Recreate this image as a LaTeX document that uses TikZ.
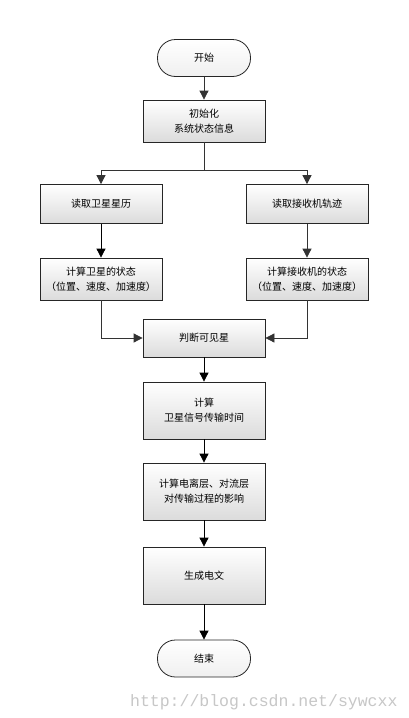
\documentclass[tikz,border=0pt]{standalone}
\usepackage{fontspec}
\newfontfamily\cjk{Noto Sans CJK SC}
\newfontfamily\markfont{Liberation Mono}
\usepackage{tikz}
\usetikzlibrary{arrows.meta}

\begin{document}
\begin{tikzpicture}[x=1pt,y=-1pt,
	proc/.style={draw=black!85,line width=0.8pt,top color=white,bottom color=black!14,
		minimum width=122pt,minimum height=42pt,align=center,
		font=\cjk\fontsize{10}{15}\selectfont},
	term/.style={proc,minimum width=93pt,minimum height=37pt,rounded corners=18pt,bottom color=black!6},
	flow/.style={draw=black!80,line width=0.8pt,-{Triangle[length=9pt,width=9pt]}},
	]
	\useasboundingbox (0,0) rectangle (409,718);
	\fill[white] (0,0) rectangle (409,718);
	
	% nodes
	\node[term] (start) at (204,58) {开始};
	\node[proc] (init) at (204,121) {初始化\\系统状态信息};
	\node[proc,minimum height=39pt] (readsat) at (101,204) {读取卫星星历};
	\node[proc,minimum height=39pt] (readrcv) at (307,204) {读取接收机轨迹};
	\node[proc] (satstate) at (101,279) {计算卫星的状态\\（位置、速度、加速度）};
	\node[proc] (rcvstate) at (307,279) {计算接收机的状态\\（位置、速度、加速度）};
	\node[proc,minimum height=38pt] (visible) at (204,338) {判断可见星};
	\node[proc,minimum height=57pt] (transit) at (204,410.5) {计算\\卫星信号传输时间};
	\node[proc,minimum height=57pt] (iono) at (204,491.5) {计算电离层、对流层\\对传输过程的影响};
	\node[proc,minimum height=57pt] (msg) at (204,575.5) {生成电文};
	\node[term] (stop) at (204,658.5) {结束};
	\coordinate (split) at (204,170);
	
	% connectors
	\draw[flow] (start) -- (init);
	\draw[draw=black!80,line width=0.8pt] (init) -- (split);
	\draw[flow] (split) -| (readsat);
	\draw[flow] (split) -| (readrcv);
	\draw[flow,draw=black] (readsat) -- (satstate);
	\draw[flow] (readrcv) -- (rcvstate);
	\draw[flow] (satstate) |- (visible);
	\draw[flow] (rcvstate) |- (visible);
	\draw[flow,draw=black] (visible) -- (transit);
	\draw[flow,draw=black] (transit) -- (iono);
	\draw[flow,draw=black] (iono) -- (msg);
	\draw[flow,draw=black] (msg) -- (stop);
	
	\node[anchor=east,text=black!22,font=\markfont\fontsize{16.5}{16.5}\selectfont] (mark) at (401,702) {http://blog.csdn.net/sywcxx};
\end{tikzpicture}
\end{document}
